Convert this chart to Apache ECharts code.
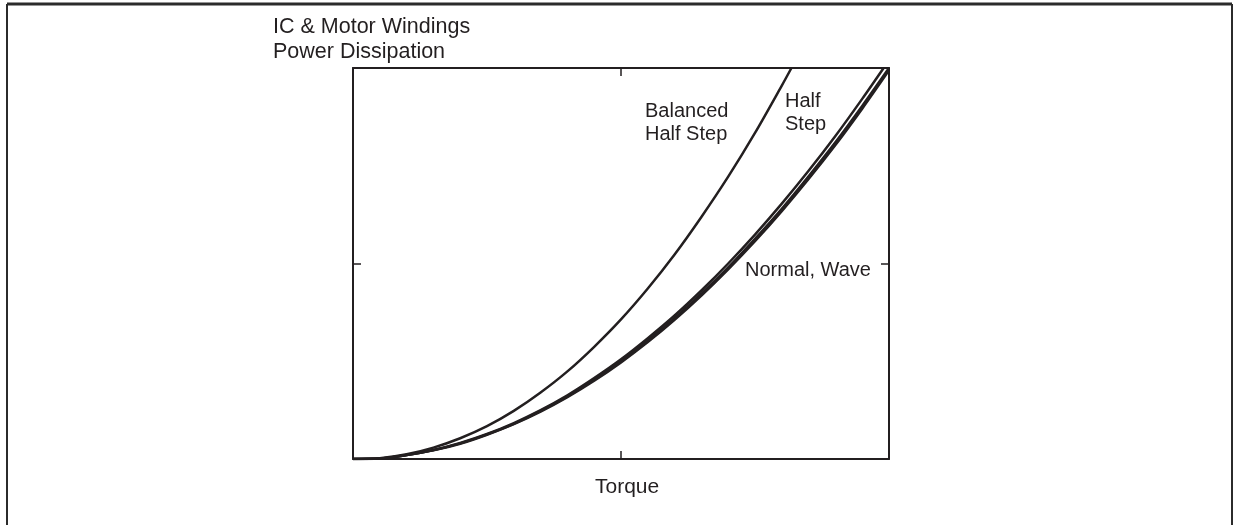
<!DOCTYPE html>
<html>
<head>
<meta charset="utf-8">
<script src="https://cdn.jsdelivr.net/npm/echarts@6/dist/echarts.min.js"></script>
<style>
*{margin:0;padding:0;}
body{background:#fff;}
#chart{width:1235px;height:525px;}
</style>
</head>
<body>
<div id="chart"></div>
<script>
// torque positions (0..10 across the box) and dissipation (0..10 up the box)
var balancedX = [0, 0.5, 1, 1.5, 2, 2.5, 3, 3.5, 4, 4.5, 5, 5.5, 6, 6.5, 7, 7.5, 8, 8.18]
var balancedY = [0, 0.02, 0.12, 0.29, 0.53, 0.84, 1.23, 1.7, 2.24, 2.87, 3.57, 4.36, 5.23, 6.19, 7.22, 8.34, 9.55, 10]

var halfStepX = [0, 0.5, 1, 1.5, 2, 2.5, 3, 3.5, 4, 4.5, 5, 5.5, 6, 6.5, 7, 7.5, 8, 8.5, 9, 9.5, 9.9]
var halfStepY = [0, 0.01, 0.1, 0.23, 0.41, 0.64, 0.92, 1.25, 1.63, 2.07, 2.55, 3.09, 3.67, 4.31, 5.0, 5.74, 6.53, 7.37, 8.26, 9.21, 10]

var normalX = [0, 0.5, 1, 1.5, 2, 2.5, 3, 3.5, 4, 4.5, 5, 5.5, 6, 6.5, 7, 7.5, 8, 8.5, 9, 9.5, 10]
var normalY = [0, 0.01, 0.1, 0.23, 0.4, 0.63, 0.9, 1.23, 1.6, 2.03, 2.5, 3.03, 3.6, 4.23, 4.9, 5.63, 6.4, 7.23, 8.1, 9.03, 10]
var waveY = [0, 0.01, 0.1, 0.22, 0.39, 0.62, 0.89, 1.21, 1.58, 2.0, 2.47, 2.99, 3.56, 4.18, 4.85, 5.57, 6.34, 7.16, 8.03, 8.96, 9.94]

var xTicks = [0, 5, 10]
var yTicks = [0, 5, 10]

function pairs(xs, ys){
  return xs.map(function(x, i){ return [x, ys[i]] })
}

var ink = '#231f20'
var font = '"Liberation Sans", Arial, sans-serif'

var myChart = echarts.init(document.getElementById('chart'))

function axisBase(pos, ticks){
  return {
    type: 'value',
    position: pos,
    min: ticks[0],
    max: ticks[ticks.length - 1],
    interval: ticks[1] - ticks[0],
    axisLine: {show: true, onZero: false, lineStyle: {color: ink, width: 2}},
    axisTick: {show: true, inside: true, length: 8, lineStyle: {color: ink, width: 1.5}},
    axisLabel: {show: false},
    splitLine: {show: false}
  }
}

function lineSeries(name, data){
  return {
    name: name,
    type: 'line',
    data: data,
    smooth: 0.3,
    showSymbol: false,
    silent: true,
    clip: true,
    lineStyle: {color: ink, width: 2.5}
  }
}

var option = {
  animation: false,
  backgroundColor: '#fff',
  grid: {left: 353, right: 346, top: 68, bottom: 66},
  xAxis: [axisBase('bottom', xTicks), axisBase('top', xTicks)],
  yAxis: [axisBase('left', yTicks), axisBase('right', yTicks)],
  series: [
    lineSeries('Balanced Half Step', pairs(balancedX, balancedY)),
    lineSeries('Half Step', pairs(halfStepX, halfStepY)),
    lineSeries('Normal', pairs(normalX, normalY)),
    lineSeries('Wave', pairs(normalX, waveY))
  ],
  graphic: [
    // outer frame, open at the bottom
    {type: 'line', shape: {x1: 7, y1: 4, x2: 1232, y2: 4}, style: {stroke: '#2b2b2b', lineWidth: 3}},
    {type: 'line', shape: {x1: 7, y1: 4, x2: 7, y2: 525}, style: {stroke: '#2b2b2b', lineWidth: 2}},
    {type: 'line', shape: {x1: 1232, y1: 4, x2: 1232, y2: 525}, style: {stroke: '#2b2b2b', lineWidth: 2}},
    {type: 'text', left: 273, top: 15, style: {text: 'IC & Motor Windings\nPower Dissipation', font: '21.5px ' + font, fill: ink, lineHeight: 25}},
    {type: 'text', left: 645, top: 100, style: {text: 'Balanced\nHalf Step', font: '20px ' + font, fill: ink, lineHeight: 23}},
    {type: 'text', left: 785, top: 90, style: {text: 'Half\nStep', font: '20px ' + font, fill: ink, lineHeight: 23}},
    {type: 'text', left: 745, top: 258, style: {text: 'Normal, Wave', font: '20px ' + font, fill: ink, lineHeight: 24}},
    {type: 'text', left: 595, top: 475, style: {text: 'Torque', font: '21px ' + font, fill: ink, lineHeight: 24}}
  ]
}

myChart.setOption(option)
</script>
</body>
</html>
